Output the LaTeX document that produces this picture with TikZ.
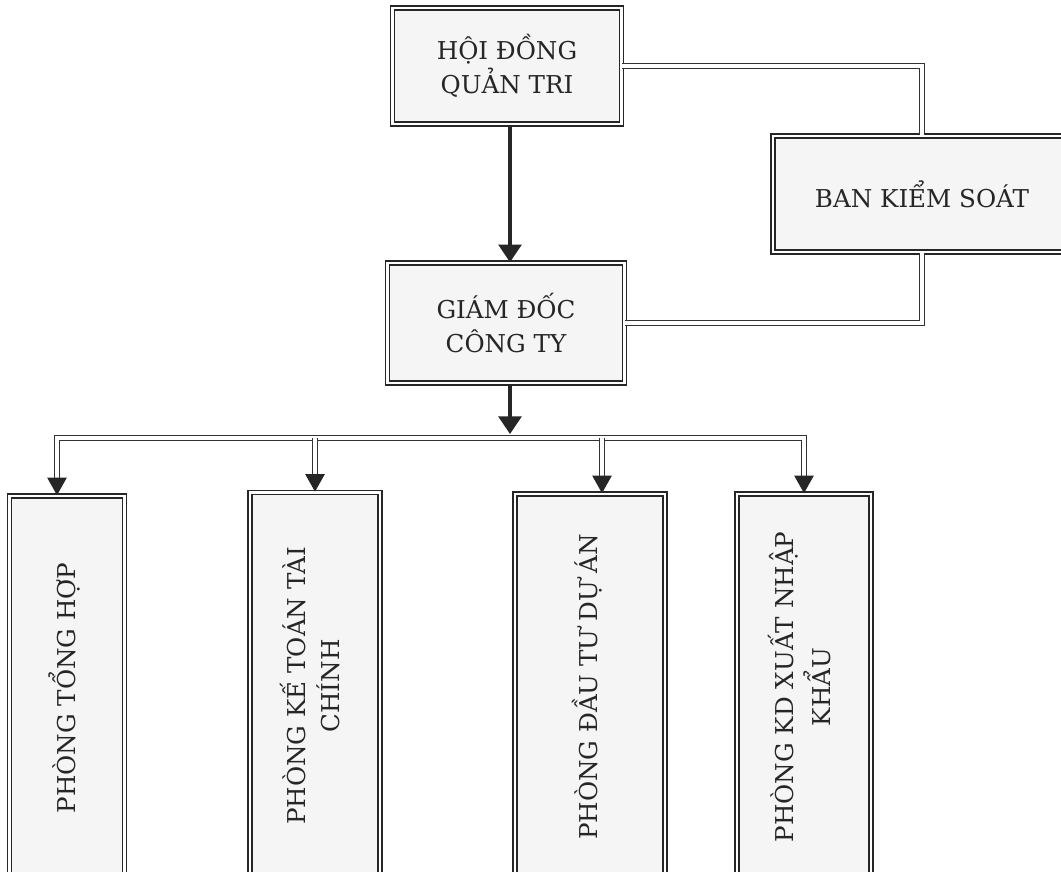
\documentclass[tikz,border=0pt]{standalone}
\usepackage{fontspec}
\setmainfont{DejaVu Serif}
\usetikzlibrary{arrows.meta,positioning}

\newcommand{\vtext}[1]{\rotatebox{90}{\begin{tabular}{@{}c@{}}#1\end{tabular}}}

\begin{document}
\begin{tikzpicture}[x=0.2mm,y=-0.2mm,
  box/.style={draw=black!85, double=white, double distance=1.3pt, line width=0.9pt,
    fill=black!4, inner sep=0pt, align=center, text=black!85,
    font=\fontsize{14}{19}\selectfont},
  link/.style={draw=black!80, double=white, double distance=2pt, line width=0.7pt},
  tip/.style={draw=black!85, line width=0.8pt, -{Triangle[width=11pt,length=10pt]}},
  main/.style={draw=black!85, line width=1.8pt, -{Triangle[width=13pt,length=10pt]}}]
\useasboundingbox (0,0) rectangle (1061,872);
\clip (0,0) rectangle (1061,872);

\node[box, minimum width=45.8mm, minimum height=23.2mm] (hdqt) at (507,66) {HỘI ĐỒNG\\QUẢN TRI};
\node[box, minimum width=59.6mm, minimum height=23.2mm] (bks) at (922,194) {BAN KIỂM SOÁT};
\node[box, minimum width=47.4mm, minimum height=24mm] (gd) at (506,323) {GIÁM ĐỐC\\CÔNG TY};

\node[box, minimum width=23mm, minimum height=76.8mm] (p1) at (67,688) {\vtext{PHÒNG TỔNG HỢP}};
\node[box, minimum width=26mm, minimum height=77.4mm] (p2) at (315,686) {\vtext{PHÒNG KẾ TOÁN TÀI\\CHÍNH}};
\node[box, minimum width=30mm, minimum height=77.2mm] (p3) at (590,687) {\vtext{PHÒNG ĐẦU TƯ DỰ ÁN}};
\node[box, minimum width=26.8mm, minimum height=77.2mm] (p4) at (804,687) {\vtext{PHÒNG KD XUẤT NHẬP\\KHẨU}};

% hoi dong -> ban kiem soat -> giam doc
\draw[link] (hdqt.east) -| (bks.north);
\draw[link] (bks.south) |- (gd.east);
\draw[main] (hdqt.south -| 510,0) -- (gd.north -| 510,0);

% bus
\coordinate (d1) at (57,438);
\coordinate (d2) at (315,438);
\coordinate (d3) at (602,438);
\coordinate (d4) at (804,438);
\draw[main] (gd.south -| 510,0) -- (510,434);
\draw[link] ([yshift=9pt]d1 |- p1.north) -- (d1) -- (d4) -- ([yshift=9pt]d4 |- p4.north);
\draw[link] (d2) -- ([yshift=9pt]d2 |- p2.north);
\draw[link] (d3) -- ([yshift=9pt]d3 |- p3.north);
\foreach \d/\p in {d1/p1,d2/p2,d3/p3,d4/p4}
  \draw[tip] ([yshift=10pt]\d |- \p.north) -- (\d |- \p.north);
\end{tikzpicture}
\end{document}
